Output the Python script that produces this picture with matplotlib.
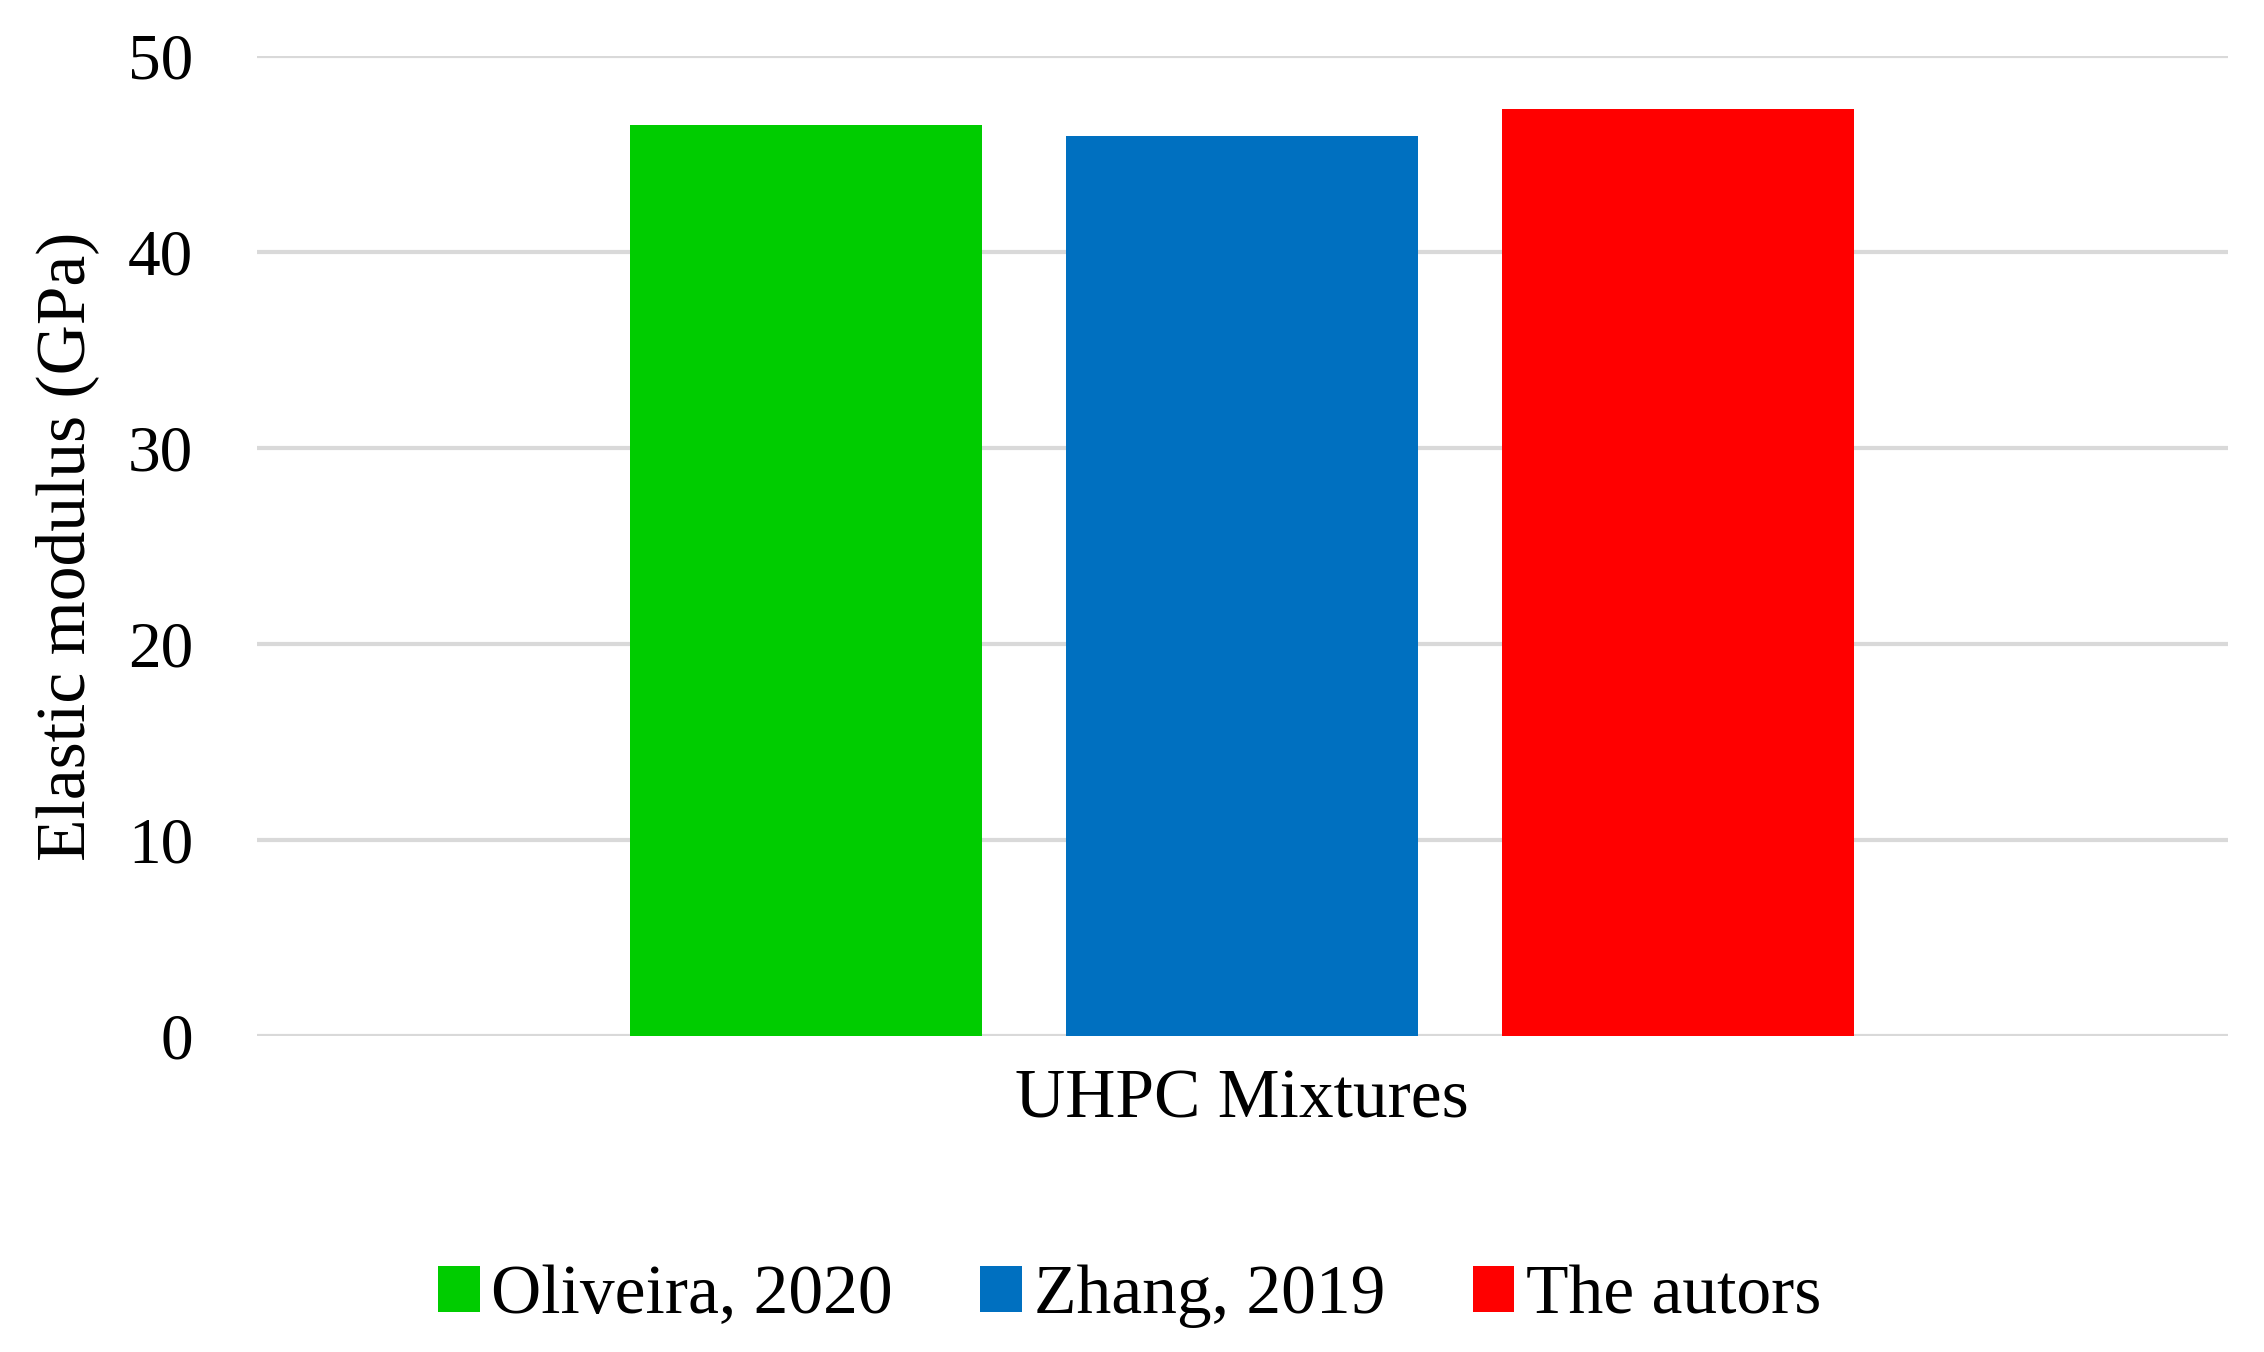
import matplotlib
matplotlib.use("Agg")
import matplotlib.pyplot as plt
import numpy as np

categories = ["UHPC Mixtures"]
series_names = ["Oliveira, 2020", "Zhang, 2019", "The autors"]
series_values = [[46.5], [45.9], [47.3]]
colors = ["#00CC00", "#0070C0", "#FF0000"]
yticks = [0, 10, 20, 30, 40, 50]

plt.rcParams['font.family'] = ['Liberation Serif', 'DejaVu Serif']

fig = plt.figure(figsize=(22.64, 13.52), dpi=100)
ax = fig.add_axes([0.1135, 0.2337, 0.8705, 0.7249])

x = np.arange(len(categories))
width = 0.1786
offset = 0.2212
handles = []
for i, (name, vals, c) in enumerate(zip(series_names, series_values, colors)):
    h = ax.bar(x + (i - 1) * offset, vals, width, color=c, label=name, zorder=3)
    handles.append(h)

ax.set_xlim(-0.5, 0.5)
ax.set_ylim(0, 50)
ax.set_yticks(yticks)
ax.set_yticklabels([str(t) for t in yticks], fontsize=47)
ax.set_xticks(x)
ax.set_xticklabels(categories, fontsize=50)
ax.tick_params(axis='y', length=0, pad=46)
ax.tick_params(axis='x', length=0, pad=24)
ax.yaxis.grid(True, color="#d9d9d9", linewidth=3, zorder=0)
ax.set_axisbelow(True)
for s in ax.spines.values():
    s.set_visible(False)
ax.set_ylabel("Elastic modulus (GPa)", fontsize=50)
ax.yaxis.set_label_coords(-0.080, 0.5)

fig.legend(handles=handles, labels=series_names, loc='center', bbox_to_anchor=(0.499, 0.041),
           ncol=3, frameon=False, fontsize=50, handlelength=0.6, handleheight=0.65,
           handletextpad=0.17, columnspacing=1.26)

fig.savefig("out.png", dpi=100)
